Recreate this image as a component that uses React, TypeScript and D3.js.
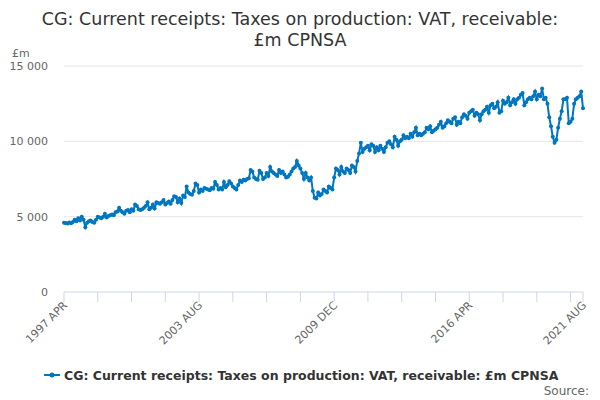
import { useEffect, useRef } from "react";
import * as d3 from "d3";

const startYear = 1997;
const startMonth = 3; // April
const months = ["JAN", "FEB", "MAR", "APR", "MAY", "JUN", "JUL", "AUG", "SEP", "OCT", "NOV", "DEC"];

// monthly values, £m, from 1997 APR to 2021 AUG
const values: number[] = [
  4600, 4580, 4550, 4620, 4560, 4650, 4800, 4700, 4900,
  4750, 5000, 4800, 4300, 4600, 4700, 4750, 4650, 4600, 4800, 5000, 4950,
  4900, 5000, 5200, 4950, 5050, 5100, 5150, 5100, 5300, 5350, 5600, 5400,
  5300, 5200, 5400, 5450, 5300, 5500, 5400, 5800, 5700, 5500, 5450, 5500,
  5600, 5700, 5950, 5500, 5600, 5800, 5550, 5950, 5900, 5850, 5950, 6100,
  5800, 5900, 6000, 5850, 6100, 6350, 6300, 5950, 6200, 5900, 6400, 6300,
  7000, 6600, 6500, 6450, 6700, 7200, 7100, 6600, 6800, 6700, 6900, 6850,
  6800, 6750, 6900, 6850, 7300, 7100, 6800, 6900, 6800, 7300, 6950, 7100,
  7350, 7200, 7000, 6900, 6800, 7100, 7400, 7300, 7450, 7400, 7500, 7550,
  8100, 8000, 7600, 7500, 7450, 8050, 7900, 7500, 7600, 7900, 7700, 8300,
  8000, 7900, 7800, 7700, 8100, 7900, 8000, 7800, 7600, 7650, 7800, 8000,
  8200, 8300, 8700, 8400, 8200, 7900, 7500, 7900, 7600, 7400, 7600, 6700,
  6250, 6200, 6600, 6400, 6500, 6800, 6700, 6600, 7000, 6900, 6800, 7600,
  8200, 8100, 7800, 8300, 8000, 7900, 8200, 8100, 7900, 8400, 8300, 8000,
  8700, 9200, 9900, 9300, 9500, 9600, 9700, 9400, 9800, 9700, 9300, 9600,
  9400, 9700, 9500, 9300, 9600, 9900, 10000, 9800, 9600, 10300, 10100, 9700,
  10000, 10100, 10400, 10200, 10300, 10200, 10500, 10300, 10600, 10900, 10400, 10500,
  10400, 10500, 10600, 10900, 10800, 11000, 10600, 10700, 10800, 10900, 11100, 11300,
  10900, 11000, 11200, 11400, 11300, 11200, 11500, 11600, 11100, 11300, 11200, 11600,
  11800, 11700, 11500, 11900, 12000, 12100, 11700, 11900, 11800, 11400, 11800, 12000,
  12100, 12300, 11900, 12400, 12500, 12200, 12300, 12600, 11900, 12000, 12700, 12500,
  12600, 12900, 12400, 12600, 12800, 12500, 12800, 12900, 13100, 13200, 12400, 12600,
  12800, 12900, 12800, 13000, 13300, 12800, 13100, 13000, 13500, 12800, 12900, 12500,
  11600, 11000, 10300, 9900, 10100, 10900, 11500, 12000, 12800, 12800, 12900, 11200,
  11300, 11500, 12500, 12800, 12900, 13000, 13300, 12200,
];

const yTicks = [0, 5000, 10000, 15000];
const tickStep = 19; // months between x ticks
const labelEvery = 4;

const title = ["CG: Current receipts: Taxes on production: VAT, receivable:", "£m CPNSA"];
const seriesName = "CG: Current receipts: Taxes on production: VAT, receivable: £m CPNSA";

const label = (i: number) => {
  const m = startMonth + i;
  return `${startYear + Math.floor(m / 12)} ${months[m % 12]}`;
};

const App = () => {
  const svgRef = useRef<SVGSVGElement | null>(null);

  useEffect(() => {
    document.body.style.margin = "0";
    if (!svgRef.current) return;
    const svg = d3.select(svgRef.current);
    svg.selectAll("*").remove();

    const left = 64, right = 583, top = 66, bottom = 292;
    const color = "#0076c0";
    const font = "DejaVu Sans, sans-serif";

    const x = d3.scaleLinear().domain([0, values.length - 1]).range([left, right]);
    const y = d3.scaleLinear().domain([0, 15000]).range([bottom, top]);

    svg.append("g").selectAll("text").data(title).enter().append("text")
      .attr("x", 300).attr("y", (_, i) => 25 + i * 21)
      .attr("text-anchor", "middle").attr("font-size", 17.5).attr("fill", "#333")
      .attr("font-family", font).text((d) => d);

    svg.append("text").attr("x", 12).attr("y", 57).attr("font-size", 11)
      .attr("fill", "#666").attr("font-family", font).text("£m");

    const yAxis = svg.append("g");
    yAxis.selectAll("line").data(yTicks.filter((t) => t > 0)).enter().append("line")
      .attr("x1", left).attr("x2", right).attr("y1", (d) => y(d)).attr("y2", (d) => y(d))
      .attr("stroke", "#e6e6e6");
    yAxis.selectAll("text").data(yTicks).enter().append("text")
      .attr("x", 48).attr("y", (d) => y(d) + 4).attr("text-anchor", "end")
      .attr("font-size", 11).attr("fill", "#666").attr("font-family", font)
      .text((d) => d3.format(",")(d).replace(",", " "));

    const ticks = d3.range(0, values.length, tickStep);
    if (ticks[ticks.length - 1] !== values.length - 1) ticks.push(values.length - 1);
    const xAxis = svg.append("g");
    xAxis.append("line").attr("x1", left).attr("x2", right).attr("y1", bottom).attr("y2", bottom)
      .attr("stroke", "#ccd6eb");
    xAxis.selectAll("line.t").data(ticks).enter().append("line").attr("class", "t")
      .attr("x1", (d) => x(d)).attr("x2", (d) => x(d)).attr("y1", bottom).attr("y2", bottom + 10)
      .attr("stroke", "#ccd6eb");
    const labelled = ticks.filter((d, i) => i % labelEvery === 0 || d === values.length - 1);
    xAxis.selectAll("text").data(labelled).enter().append("text")
      .attr("transform", (d) => `translate(${x(d) + 4},${bottom + 14}) rotate(-45)`)
      .attr("text-anchor", "end").attr("font-size", 11).attr("fill", "#666")
      .attr("font-family", font).text((d) => label(d));

    const line = d3.line<number>().x((_, i) => x(i)).y((d) => y(d));
    svg.append("path").datum(values).attr("d", line).attr("fill", "none")
      .attr("stroke", color).attr("stroke-width", 2);
    svg.append("g").selectAll("circle").data(values).enter().append("circle")
      .attr("cx", (_, i) => x(i)).attr("cy", (d) => y(d)).attr("r", 2).attr("fill", color);

    const leg = svg.append("g").attr("transform", "translate(44,375)");
    leg.append("line").attr("x1", 0).attr("x2", 16).attr("y1", 0).attr("y2", 0)
      .attr("stroke", color).attr("stroke-width", 2);
    leg.append("circle").attr("cx", 8).attr("cy", 0).attr("r", 2.5).attr("fill", color);
    leg.append("text").attr("x", 20).attr("y", 4.5).attr("font-size", 12.5)
      .attr("font-weight", "bold").attr("fill", "#333").attr("font-family", font).text(seriesName);

    svg.append("text").attr("x", 589).attr("y", 395).attr("text-anchor", "end")
      .attr("font-size", 12).attr("fill", "#666").attr("font-family", font).text("Source:");
  }, []);

  return <svg ref={svgRef} width={600} height={400} style={{ display: "block" }} />;
};

export default App;
